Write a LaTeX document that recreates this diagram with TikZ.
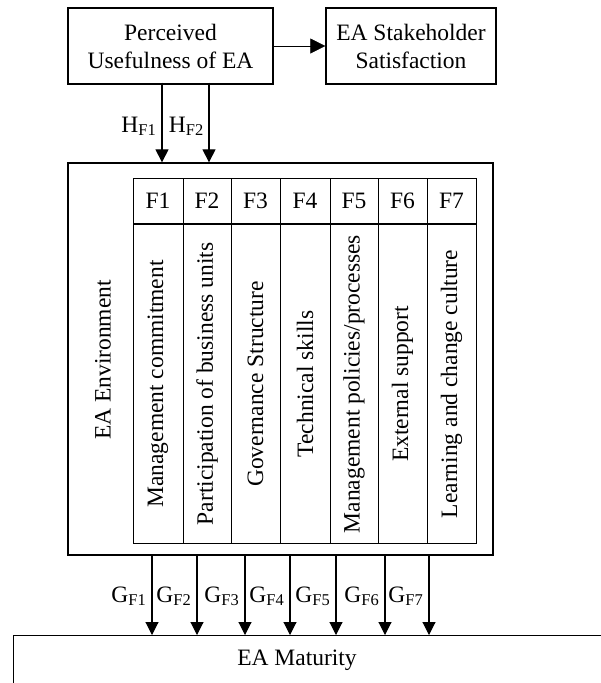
\documentclass[tikz,border=0pt]{standalone}
\usepackage{fontspec}
\setmainfont{Liberation Serif}
\usetikzlibrary{arrows.meta}
\tikzset{
  box/.style={draw, line width=1.3pt, inner sep=0pt, align=center},
  cell/.style={draw, line width=1pt, inner sep=0pt},
  arr/.style={line width=1.1pt, -{Triangle[length=13pt,width=13pt]}},
  harr/.style={line width=0.6pt, -{Triangle[length=15pt,width=15pt]}},
  sublbl/.style={anchor=base east, inner sep=0pt},
  txt/.style={inner sep=0pt}
}
\begin{document}
\begin{tikzpicture}[x=1pt,y=-1pt,font=\fontsize{23.5}{28}\selectfont]
\useasboundingbox (0,0) rectangle (601,683);
% top boxes
\node[box, minimum width=205pt, minimum height=76pt] (pu) at (170.5,46) {Perceived\\Usefulness of EA};
\node[box, minimum width=170pt, minimum height=76pt] (sat) at (411,46) {EA Stakeholder\\Satisfaction};
\draw[harr] (pu.east) -- (sat.west);
% environment
\node[box, minimum width=425pt, minimum height=392pt] (env) at (280.5,359) {};
\node[txt, rotate=90] (envlbl) at (103,360) {EA Environment};
% factor table
\foreach \i/\l/\r/\t in {1/133/183/{Management commitment},
                         2/183/231/{Participation of business units},
                         3/231/280/{Governance Structure},
                         4/280/330/{Technical skills},
                         5/330/378/{Management policies/processes},
                         6/378/427/{External support},
                         7/427/476/{Learning and change culture}}{
  \node[cell, minimum width={(\r-\l)*1pt}, minimum height=45pt] (h\i) at ({(\l+\r)/2},200.5) {F\i};
  \node[cell, minimum width={(\r-\l)*1pt}, minimum height=318.5pt] (b\i) at ({(\l+\r)/2},384) {};
  \node[txt, rotate=90] (t\i) at (b\i) {\t};
}
% H arrows
\coordinate (hx1) at (162,0);
\coordinate (hx2) at (209,0);
\draw[arr] ([yshift=2pt]pu.south -| hx1) -- (env.north -| hx1);
\draw[arr] ([yshift=2pt]pu.south -| hx2) -- (env.north -| hx2);
\node[sublbl] (hl1) at (156.5,132) {H\textsubscript{F1}};
\node[sublbl] (hl2) at (204,132) {H\textsubscript{F2}};
% maturity box
\begin{scope}
\clip (0,0) rectangle (601,683);
\node[draw, line width=1.2pt, minimum width=640pt, minimum height=80pt, inner sep=0pt, anchor=north west] (mat) at (13,635) {};
\end{scope}
\node[txt] (matlbl) at (297,660) {EA Maturity};
% G arrows
\foreach \i/\x in {1/152,2/197,3/245,4/290,5/336,6/385,7/429}{
  \coordinate (gx\i) at (\x,0);
  \draw[arr] (env.south -| gx\i) -- (mat.north -| gx\i);
  \node[sublbl] (gl\i) at ({\x-5.5},602) {G\textsubscript{F\i}};
}
\end{tikzpicture}
\end{document}
